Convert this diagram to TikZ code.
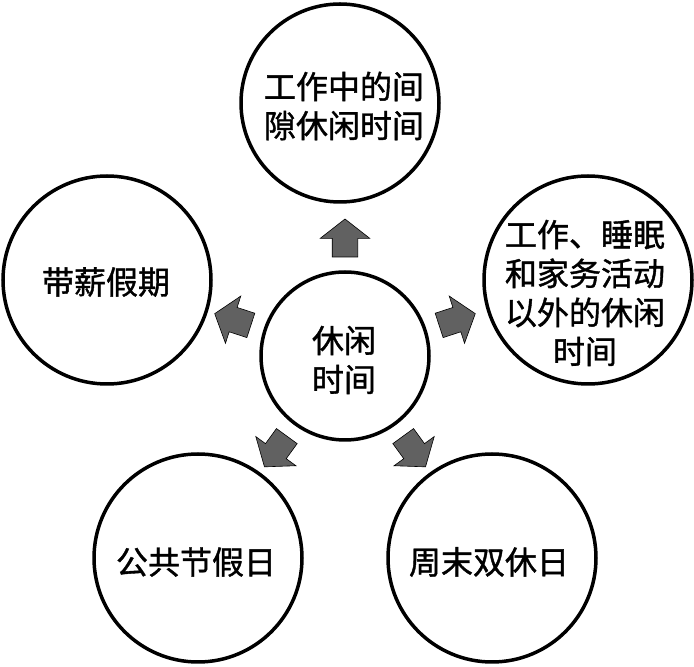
\documentclass[tikz,border=0pt]{standalone}
\usepackage{fontspec}
\setmainfont[FakeBold=1.2]{Noto Sans CJK SC}
\usetikzlibrary{shapes.arrows,calc}
\definecolor{arrowgray}{gray}{0.38}

\begin{document}
\begin{tikzpicture}[
	x=1pt,
	y=1pt,
	font=\fontsize{32}{39}\selectfont,
	ring/.style={circle,draw=black,line width=3.5pt,fill=white,minimum size=208pt,inner sep=0pt},
	hubring/.style={ring,minimum size=168pt},
	ringtext/.style={align=center,text=black,inner sep=0pt},
	blockarrow/.style={
		single arrow,
		draw=black,
		line width=0.6pt,
		fill=arrowgray,
		minimum height=38pt,
		single arrow head extend=12pt,
		single arrow tip angle=104,
		inner xsep=0pt,
		inner ysep=12.5pt
	}
	]
	\useasboundingbox (0,0) rectangle (694,667);
	
	% Circles
	\node[hubring] (hub) at (345,311) {};
	\node[ring,minimum size=198pt] (gap) at (340,564) {};
	\node[ring] (outside) at (588,387) {};
	\node[ring] (paid) at (107,387) {};
	\node[ring] (public) at (198,109) {};
	\node[ring] (weekend) at (492,109) {};
	
	% Texts
	\node[ringtext] (hub-text) at (344,307) {休闲\\时间};
	\node[ringtext] (gap-text) at (344,561) {工作中的间\\隙休闲时间};
	\node[ringtext] (outside-text) at (585,374) {工作、睡眠\\和家务活动\\以外的休闲\\时间};
	\node[ringtext] (paid-text) at (106,385) {带薪假期};
	\node[ringtext] (public-text) at (196,105) {公共节假日};
	\node[ringtext] (weekend-text) at (489,105) {周末双休日};
	
	% Block arrows round the hub
	\foreach \a/\n in {90/gap,18/outside,162/paid,234/public,306/weekend} {
		\node[blockarrow,rotate=\a] (arrow-\n) at ($(hub)+(\a:113)$) {};
	}
\end{tikzpicture}
\end{document}
